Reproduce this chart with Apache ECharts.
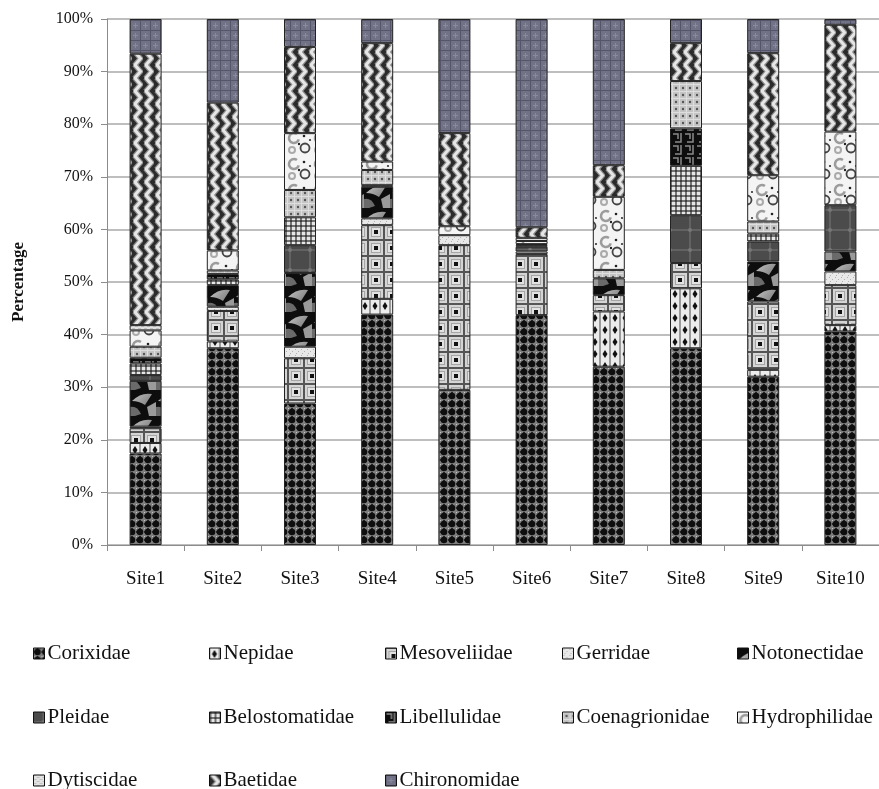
<!DOCTYPE html>
<html>
<head>
<meta charset="utf-8">
<script src="https://cdn.jsdelivr.net/npm/echarts@6/dist/echarts.min.js"></script>
<style>
  html, body { margin: 0; padding: 0; background: #fff; }
  #chart { width: 879px; height: 789px; }
</style>
</head>
<body>
<div id="chart"></div>
<script>
// Composition of aquatic insect families (% of individuals) at each site
const categories = ['Site1', 'Site2', 'Site3', 'Site4', 'Site5', 'Site6', 'Site7', 'Site8', 'Site9', 'Site10'];
const families = ['Corixidae', 'Nepidae', 'Mesoveliidae', 'Gerridae', 'Notonectidae', 'Pleidae',
  'Belostomatidae', 'Libellulidae', 'Coenagrionidae', 'Hydrophilidae', 'Dytiscidae', 'Baetidae', 'Chironomidae'];
const yTicks = [0, 10, 20, 30, 40, 50, 60, 70, 80, 90, 100];

const corixidae      = [17.4, 37.4, 26.9, 43.8, 29.5, 43.7, 33.9, 37.4, 32.0, 40.6];
const nepidae        = [2.0, 1.3, 0, 3.0, 0, 0, 10.5, 11.4, 1.3, 1.2];
const mesoveliidae   = [2.8, 5.8, 8.6, 14.0, 27.5, 11.6, 3.1, 4.8, 13.0, 7.6];
const gerridae       = [0.3, 0.8, 2.2, 1.3, 1.9, 0.5, 0, 0, 0, 2.6];
const notonectidae   = [8.7, 4.1, 14.0, 6.0, 0, 0, 3.2, 0, 7.6, 3.8];
const pleidae        = [1.1, 0, 5.3, 0, 0, 0.9, 0, 9.1, 3.8, 8.8];
const belostomatidae = [2.2, 1.1, 5.3, 0, 0, 0.3, 0, 9.4, 1.5, 0];
const libellulidae   = [1.1, 1.0, 0, 0.3, 0, 0, 0, 7.1, 0, 0];
const coenagrionidae = [2.1, 0.7, 5.2, 2.9, 0, 0.2, 1.6, 9.0, 2.3, 0];
const hydrophilidae  = [3.1, 3.8, 10.8, 1.6, 1.7, 0.6, 13.9, 0, 8.8, 14.0];
const dytiscidae     = [1.0, 0, 0, 0, 0, 0.6, 0, 0, 0, 0];
const baetidae       = [51.6, 28.1, 16.4, 22.5, 17.7, 2.0, 6.0, 7.2, 23.2, 20.3];
const chironomidae   = [6.6, 15.9, 5.3, 4.6, 21.7, 39.6, 27.8, 4.6, 6.5, 1.1];

const seriesValues = [corixidae, nepidae, mesoveliidae, gerridae, notonectidae, pleidae,
  belostomatidae, libellulidae, coenagrionidae, hydrophilidae, dytiscidae, baetidae, chironomidae];

// ---- fill textures (monochrome picture fills) ----
function tile(w, h, draw) {
  const c = document.createElement('canvas');
  c.width = w; c.height = h;
  const g = c.getContext('2d');
  draw(g, w, h);
  return { image: c, repeat: 'repeat' };
}
function dot(g, x, y, r, col) { g.fillStyle = col; g.beginPath(); g.arc(x, y, r, 0, Math.PI * 2); g.fill(); }

const textures = [
  // Corixidae: dark lattice with light grid
  tile(8, 8, (g) => {
    g.fillStyle = '#7e7e7e'; g.fillRect(0, 0, 8, 8);
    dot(g, 4, 4, 3.3, '#0e0e0e');
    g.fillStyle = '#c4c4c4'; g.fillRect(0, 0, 1, 1);
    g.fillStyle = '#222'; g.fillRect(0, 3, 1, 2); g.fillRect(3, 0, 2, 1);
  }),
  // Nepidae: light columns with black diamonds
  tile(10, 12, (g) => {
    g.fillStyle = '#ececec'; g.fillRect(0, 0, 10, 12);
    g.fillStyle = '#9a9a9a'; g.fillRect(0, 0, 1, 12); g.fillRect(9, 0, 1, 12);
    g.fillStyle = '#111';
    g.beginPath(); g.moveTo(5, 2); g.lineTo(7.5, 6); g.lineTo(5, 10); g.lineTo(2.5, 6); g.closePath(); g.fill();
  }),
  // Mesoveliidae: bevelled squares with dark centre
  tile(16, 16, (g) => {
    g.fillStyle = '#555'; g.fillRect(0, 0, 16, 16);
    g.fillStyle = '#d4d4d4'; g.fillRect(1, 1, 14, 14);
    g.fillStyle = '#a4a4a4'; g.fillRect(3, 3, 10, 10);
    g.fillStyle = '#e2e2e2'; g.fillRect(4, 4, 8, 8);
    g.fillStyle = '#111'; g.fillRect(6, 6, 4, 4);
  }),
  // Gerridae: pale stipple
  tile(6, 6, (g) => {
    g.fillStyle = '#e8e8e8'; g.fillRect(0, 0, 6, 6);
    g.fillStyle = '#b0b0b0'; g.fillRect(1, 1, 1, 1); g.fillRect(4, 3, 1, 1); g.fillRect(2, 5, 1, 1);
  }),
  // Notonectidae: black with grey curved shards
  tile(26, 26, (g) => {
    g.fillStyle = '#0d0d0d'; g.fillRect(0, 0, 26, 26);
    const gr = g.createLinearGradient(0, 0, 26, 26);
    gr.addColorStop(0, '#d0d0d0'); gr.addColorStop(1, '#555');
    g.fillStyle = gr;
    g.beginPath(); g.moveTo(2, 11); g.quadraticCurveTo(11, 2, 22, 4); g.lineTo(15, 15); g.quadraticCurveTo(9, 11, 2, 11); g.fill();
    g.fillStyle = '#9a9a9a';
    g.beginPath(); g.moveTo(17, 17); g.lineTo(26, 12); g.lineTo(26, 26); g.lineTo(19, 26); g.closePath(); g.fill();
    g.fillStyle = '#6a6a6a';
    g.beginPath(); g.moveTo(0, 17); g.quadraticCurveTo(7, 15, 11, 24); g.lineTo(5, 26); g.lineTo(0, 26); g.fill();
  }),
  // Pleidae: dark grey with faint star
  tile(20, 20, (g) => {
    g.fillStyle = '#4b4b4b'; g.fillRect(0, 0, 20, 20);
    g.fillStyle = '#626262'; g.fillRect(9, 0, 2, 20); g.fillRect(0, 9, 20, 2);
    dot(g, 10, 10, 2, '#777');
  }),
  // Belostomatidae: gingham check
  tile(5, 5, (g) => {
    g.fillStyle = '#e6e6e6'; g.fillRect(0, 0, 5, 5);
    g.fillStyle = 'rgba(20,20,20,0.55)'; g.fillRect(0, 0, 5, 2); g.fillRect(0, 0, 2, 5);
  }),
  // Libellulidae: black maze
  tile(12, 12, (g) => {
    g.fillStyle = '#0d0d0d'; g.fillRect(0, 0, 12, 12);
    g.strokeStyle = '#8a8a8a'; g.lineWidth = 1.5;
    g.beginPath(); g.moveTo(1, 2); g.lineTo(6, 2); g.lineTo(6, 7); g.moveTo(9, 1); g.lineTo(9, 10); g.lineTo(3, 10); g.stroke();
  }),
  // Coenagrionidae: light dotted grid
  tile(7, 7, (g) => {
    g.fillStyle = '#c4c4c4'; g.fillRect(0, 0, 7, 7);
    g.fillStyle = '#dedede'; g.fillRect(0, 0, 7, 1); g.fillRect(0, 0, 1, 7);
    dot(g, 4, 4, 1.2, '#555');
  }),
  // Hydrophilidae: white with grey swirls and rings
  tile(26, 26, (g) => {
    g.fillStyle = '#f4f4f4'; g.fillRect(0, 0, 26, 26);
    g.strokeStyle = '#9c9c9c'; g.lineWidth = 2.5;
    g.beginPath(); g.arc(8, 8, 5, 0.3, Math.PI * 1.7); g.stroke();
    g.strokeStyle = '#444'; g.lineWidth = 1.8;
    g.beginPath(); g.arc(19, 18, 4.5, 0, Math.PI * 2); g.stroke();
    g.strokeStyle = '#aaa'; g.lineWidth = 2;
    g.beginPath(); g.arc(6, 20, 3, 0, Math.PI * 2); g.stroke();
    dot(g, 18, 6, 1.3, '#222'); dot(g, 13, 14, 1.2, '#222'); dot(g, 24, 10, 1.1, '#333');
  }),
  // Dytiscidae: pale speckle
  tile(6, 4, (g) => {
    g.fillStyle = '#e2e2e2'; g.fillRect(0, 0, 6, 4);
    g.fillStyle = '#c2c2c2'; g.fillRect(0, 0, 3, 1); g.fillRect(3, 2, 3, 1);
  }),
  // Baetidae: vertical zigzag bands
  tile(11, 13, (g) => {
    g.fillStyle = '#2b2b2b'; g.fillRect(0, 0, 11, 13);
    g.strokeStyle = '#8c8c8c'; g.lineWidth = 5.5;
    g.beginPath(); g.moveTo(2.5, -0.5); g.lineTo(8.5, 6.5); g.lineTo(2.5, 13.5); g.stroke();
    g.strokeStyle = '#e6e6e6'; g.lineWidth = 3;
    g.beginPath(); g.moveTo(2.5, -0.5); g.lineTo(8.5, 6.5); g.lineTo(2.5, 13.5); g.stroke();
  }),
  // Chironomidae: slate-violet grid
  tile(10, 10, (g) => {
    g.fillStyle = '#727286'; g.fillRect(0, 0, 10, 10);
    g.fillStyle = '#55556a'; g.fillRect(0, 0, 10, 1); g.fillRect(0, 0, 1, 10);
    g.fillStyle = '#8a8a9e'; g.fillRect(5, 3, 1, 5); g.fillRect(3, 5, 5, 1);
  })
];

// legend grid: five columns, three rows
const legendCols = [33, 209, 385, 562, 737];
const legendRows = [643, 707, 770];

const series = families.map((name, i) => ({
  name: name,
  type: 'bar',
  stack: 'total',
  barWidth: 32,
  data: seriesValues[i].map(v => (v === 0 ? '-' : v)),
  itemStyle: { color: textures[i], borderColor: '#222', borderWidth: 1 },
  emphasis: { disabled: true }
}));

const legends = families.map((name, i) => ({
  data: [name],
  left: legendCols[i % 5],
  top: legendRows[Math.floor(i / 5)],
  padding: 0,
  icon: 'rect',
  itemWidth: 11,
  itemHeight: 11,
  itemGap: 3,
  itemStyle: { borderColor: '#111', borderWidth: 1 },
  selectedMode: false,
  textStyle: { fontFamily: 'Liberation Serif', fontSize: 21, color: '#111', padding: [0, 0, 0, -2] }
}));

const chart = echarts.init(document.getElementById('chart'), null, { renderer: 'canvas' });
chart.setOption({
  animation: false,
  backgroundColor: '#fff',
  grid: { left: 107, top: 19, width: 780, height: 526 },
  legend: legends,
  xAxis: {
    type: 'category',
    data: categories,
    axisLine: { lineStyle: { color: '#8c8c8c', width: 1 } },
    axisTick: { show: true, length: 6, lineStyle: { color: '#8c8c8c' } },
    axisLabel: { fontFamily: 'Liberation Serif', fontSize: 19, color: '#111', margin: 25 }
  },
  yAxis: {
    type: 'value',
    min: 0,
    max: 100,
    interval: 10,
    name: 'Percentage',
    nameLocation: 'middle',
    nameRotate: 90,
    nameGap: 80,
    nameTextStyle: { fontFamily: 'Liberation Serif', fontSize: 17, fontWeight: 'bold', color: '#111' },
    axisLine: { show: true, lineStyle: { color: '#8c8c8c', width: 1 } },
    axisTick: { show: true, length: 6, lineStyle: { color: '#8c8c8c' } },
    splitLine: { lineStyle: { color: '#a8a8a8', width: 1.5 } },
    axisLabel: {
      fontFamily: 'Liberation Serif', fontSize: 16, color: '#111', margin: 14,
      formatter: v => (yTicks.indexOf(v) >= 0 ? v + '%' : '')
    }
  },
  series: series
});
</script>
</body>
</html>
